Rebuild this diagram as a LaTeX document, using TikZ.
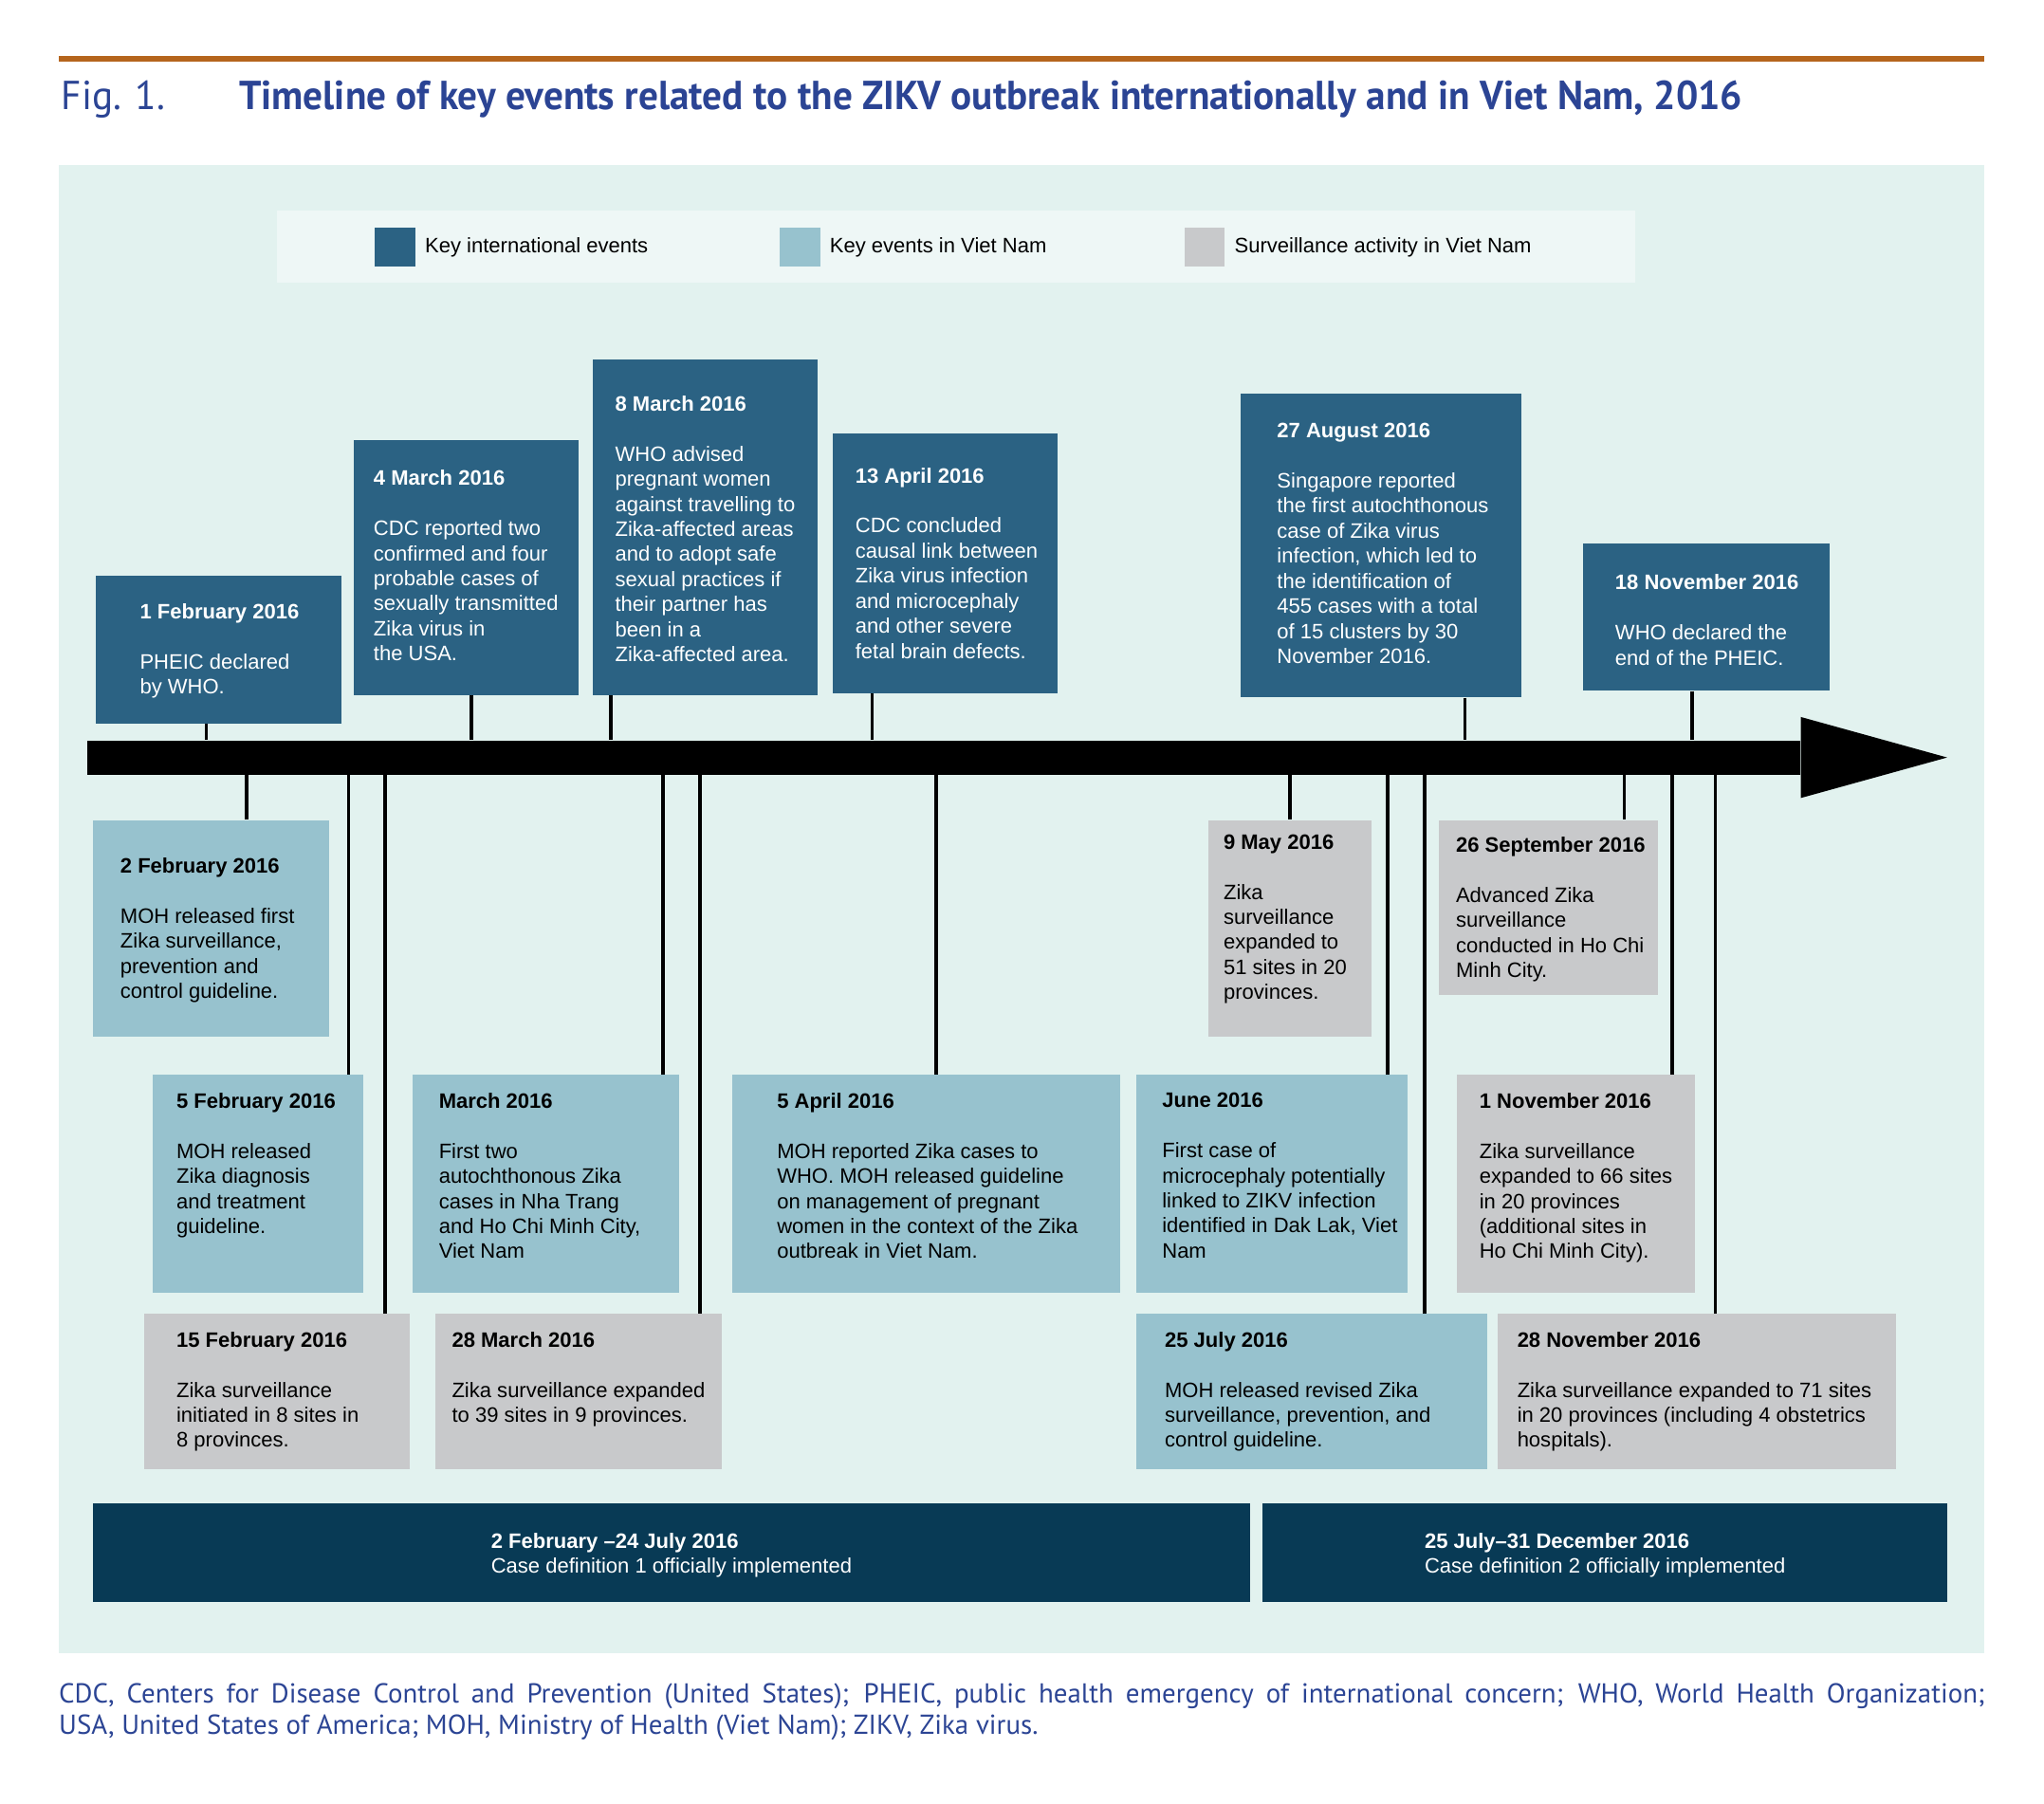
\documentclass[tikz,border=0pt]{standalone}
\usepackage{fontspec}
\setmainfont{Liberation Sans}
\newfontfamily\capfont{PT Sans}
\newfontfamily\headfont[FakeStretch=0.966]{PT Sans}
\usetikzlibrary{positioning}

\definecolor{ruleorange}{HTML}{B5651D}
\definecolor{capblue}{HTML}{2B4494}
\definecolor{panelbg}{HTML}{E2F2EF}
\definecolor{legendbg}{HTML}{EEF7F6}
\definecolor{intlblue}{HTML}{2B6283}
\definecolor{vnblue}{HTML}{97C2CE}
\definecolor{survgray}{HTML}{C8C9CB}
\definecolor{cdnavy}{HTML}{083A55}

\newcommand{\evdate}[1]{\textbf{#1}\\[19.2pt]}
% one event: box, then its text
\newcommand{\event}[9]{%
  \node[#2box, minimum width=#5, minimum height=#6] (#1) at (#3,#4) {};
  \node[evtext, #2text] (#1-txt) at (#7,#8-6) {#9};
}

\begin{document}
\begin{tikzpicture}[x=1pt, y=-1pt,
  evbox/.style={rectangle, inner sep=0pt, anchor=north west},
  intlbox/.style={evbox, fill=intlblue},
  vnbox/.style={evbox, fill=vnblue},
  survbox/.style={evbox, fill=survgray},
  evtext/.style={anchor=north west, inner sep=0pt, align=left,
    font=\fontsize{16}{19.2}\selectfont},
  intltext/.style={text=white},
  vntext/.style={text=black},
  survtext/.style={text=black},
  stem/.style={line width=2.6pt, black},
  keybox/.style={rectangle, inner sep=0pt, anchor=north west,
    minimum width=31, minimum height=30},
  keylabel/.style={right=7pt of #1, inner sep=0pt,
    font=\fontsize{16}{19.2}\selectfont}]
  \useasboundingbox (0,0) rectangle (1565.6,1381.1);

  % heading
  \draw[ruleorange, line width=4] (45,45) -- (1520,45);
  \node[anchor=base west, inner sep=0pt, text=capblue,
    font=\headfont\fontsize{31}{36}\selectfont] (fig) at (47,84) {Fig. 1.};
  \node[anchor=base west, inner sep=0pt, text=capblue,
    font=\headfont\bfseries\fontsize{31}{36}\selectfont] (title) at (183,84)
    {Timeline of key events related to the ZIKV outbreak internationally and in Viet Nam, 2016};

  \fill[panelbg] (45,126.4) rectangle (1520,1266);

  % legend
  \node[rectangle, inner sep=0pt, anchor=north west, fill=legendbg,
    minimum width=1040, minimum height=55] (legend) at (212,161) {};
  \node[keybox, fill=intlblue] (keyintl) at (287,174) {};
  \node[keylabel=keyintl] {Key international events};
  \node[keybox, fill=vnblue] (keyvn) at (597,174) {};
  \node[keylabel=keyvn] {Key events in Viet Nam};
  \node[keybox, fill=survgray] (keysurv) at (907,174) {};
  \node[keylabel=keysurv] {Surveillance activity in Viet Nam};

  % timeline
  \node[rectangle, inner sep=0pt, anchor=north west, fill=black,
    minimum width=1312, minimum height=26] (axis) at (67,567) {};
  \fill (axis.east) -- ++(0,-31) -- ++(112,31) -- ++(-112,31) -- cycle;

  % international events
  \event{feb1}{intl}{73}{441}{188}{113}{107}{468}{\evdate{1 February 2016}PHEIC declared\\by WHO.}
  \event{mar4}{intl}{271}{337}{172}{195}{286}{366}{\evdate{4 March 2016}CDC reported two\\confirmed and four\\probable cases of\\sexually transmitted\\Zika virus in\\the USA.}
  \event{mar8}{intl}{454}{275}{172}{257}{471}{309}{\evdate{8 March 2016}WHO advised\\pregnant women\\against travelling to\\Zika-affected areas\\and to adopt safe\\sexual practices if\\their partner has\\been in a\\Zika-affected area.}
  \event{apr13}{intl}{638}{332}{172}{199}{655}{364}{\evdate{13 April 2016}CDC concluded\\causal link between\\Zika virus infection\\and microcephaly\\and other severe\\fetal brain defects.}
  \event{aug27}{intl}{950}{301}{215}{233}{978}{330}{\evdate{27 August 2016}Singapore reported\\the first autochthonous\\case of Zika virus\\infection, which led to\\the identification of\\455 cases with a total\\of 15 clusters by 30\\November 2016.}
  \event{nov18}{intl}{1212}{416}{189}{113}{1237}{446}{\evdate{18 November 2016}WHO declared the\\end of the PHEIC.}

  % events in Viet Nam
  \event{feb2}{vn}{71}{628}{181}{166}{92}{663}{\evdate{2 February 2016}MOH released first\\Zika surveillance,\\prevention and\\control guideline.}
  \event{feb5}{vn}{117}{823}{161}{167}{135}{843}{\evdate{5 February 2016}MOH released\\Zika diagnosis\\and treatment\\guideline.}
  \event{mar}{vn}{316}{823}{204}{167}{336}{843}{\evdate{March 2016}First two\\autochthonous Zika\\cases in Nha Trang\\and Ho Chi Minh City,\\Viet Nam}
  \event{apr5}{vn}{561}{823}{297}{167}{595}{843}{\evdate{5 April 2016}MOH reported Zika cases to\\WHO. MOH released guideline\\on management of pregnant\\women in the context of the Zika\\outbreak in Viet Nam.}
  \event{jun}{vn}{870}{823}{208}{167}{890}{843}{\evdate{June 2016}First case of\\microcephaly potentially\\linked to ZIKV infection\\identified in Dak Lak, Viet\\Nam}
  \event{jul25}{vn}{870}{1006}{269}{119}{892}{1026}{\evdate{25 July 2016}MOH released revised Zika\\surveillance, prevention, and\\control guideline.}

  % surveillance activity
  \event{may9}{surv}{925}{628}{125}{166}{937}{645}{\evdate{9 May 2016}Zika\\surveillance\\expanded to\\51 sites in 20\\provinces.}
  \event{sep26}{surv}{1102}{628}{168}{134}{1115}{647}{\evdate{26 September 2016}Advanced Zika\\surveillance\\conducted in Ho Chi\\Minh City.}
  \event{nov1}{surv}{1116}{823}{182}{167}{1133}{843}{\evdate{1 November 2016}Zika surveillance\\expanded to 66 sites\\in 20 provinces\\(additional sites in\\Ho Chi Minh City).}
  \event{feb15}{surv}{110}{1006}{204}{119}{135}{1026}{\evdate{15 February 2016}Zika surveillance\\initiated in 8 sites in\\8 provinces.}
  \event{mar28}{surv}{333}{1006}{220}{119}{346}{1026}{\evdate{28 March 2016}Zika surveillance expanded\\to 39 sites in 9 provinces.}
  \event{nov28}{surv}{1147}{1006}{305}{119}{1162}{1026}{\evdate{28 November 2016}Zika surveillance expanded to 71 sites\\in 20 provinces (including 4 obstetrics\\hospitals).}

  % stems to the timeline
  \foreach \ev/\cx in {feb1/158, mar4/361, mar8/468, apr13/668, aug27/1122, nov18/1296}
    \draw[stem] (\ev.south -| \cx,0) -- (axis.north -| \cx,0);
  \foreach \ev/\cx in {feb2/189, feb5/267, feb15/295, mar/508, mar28/536, apr5/717,
      may9/988, jun/1063, jul25/1091, sep26/1244, nov1/1281, nov28/1314}
    \draw[stem] (axis.south -| \cx,0) -- (\ev.north -| \cx,0);

  % case definitions
  \node[rectangle, inner sep=0pt, anchor=north west, fill=cdnavy,
    minimum width=886, minimum height=76] (cd1) at (71,1151) {};
  \node[evtext, text=white] (cd1-txt) at (376,1174)
    {\textbf{2 February –24 July 2016}\\Case definition 1 officially implemented};
  \node[rectangle, inner sep=0pt, anchor=north west, fill=cdnavy,
    minimum width=524, minimum height=76] (cd2) at (967,1151) {};
  \node[evtext, text=white] (cd2-txt) at (1091,1174)
    {\textbf{25 July–31 December 2016}\\Case definition 2 officially implemented};

  % abbreviations
  \node[anchor=north west, inner sep=0pt, text width=1475, align=justify,
    text=capblue, font=\capfont\fontsize{21}{24}\selectfont] (caption) at (45,1289)
    {\hyphenpenalty=10000 CDC, Centers for Disease Control and Prevention (United States); PHEIC, public health emergency of international concern; WHO, World Health Organization;\linebreak
    USA, United States of America; MOH, Ministry of Health (Viet Nam); ZIKV, Zika virus.};
\end{tikzpicture}
\end{document}
